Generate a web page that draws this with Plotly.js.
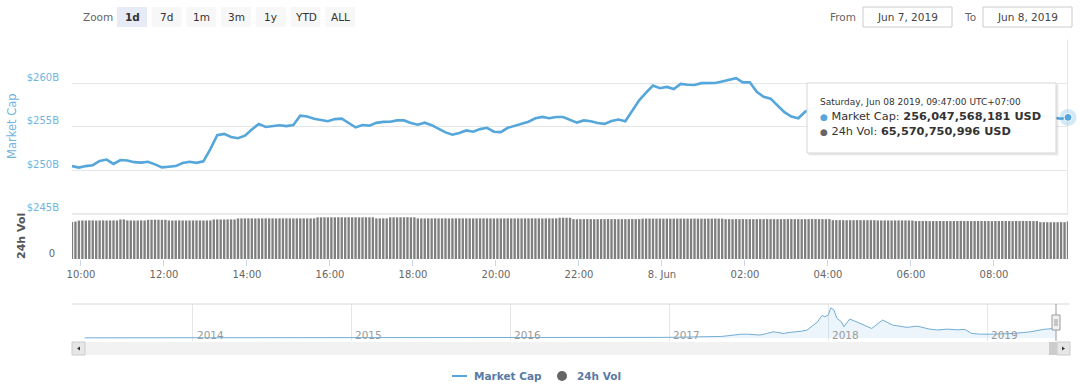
<!DOCTYPE html>
<html><head><meta charset="utf-8">
<script src="https://cdn.plot.ly/plotly-3.0.1.min.js"></script>
<style>html,body{margin:0;padding:0;background:#fff}#chart{width:1080px;height:387px}</style>
</head><body><div id="chart"></div>
<script>
// ---------------- DATA ----------------
const startTime = [2019, 5, 7, 9, 47];   // Jun 7 2019 09:47 (UTC+07 wall clock)
const capStepMinutes = 10;
const volStepMinutes = 5;

// Market cap, billions USD, every 10 minutes
const marketCapB = [
  250.45,250.28,250.45,250.55,251.05,251.2,250.7,251.15,251.1,250.9,250.85,250.95,
  250.65,250.3,250.38,250.45,250.8,250.95,250.82,251.0,252.4,254.0,254.15,253.8,
  253.65,253.95,254.66,255.3,254.95,255.05,255.15,255.05,255.17,256.25,256.15,255.9,
  255.75,255.6,255.85,255.9,255.4,254.9,255.17,255.1,255.42,255.53,255.55,255.7,
  255.7,255.4,255.2,255.44,255.15,254.75,254.32,254.05,254.25,254.55,254.4,254.7,
  254.85,254.4,254.35,254.85,255.1,255.35,255.55,255.95,256.1,255.95,256.1,256.1,
  255.78,255.45,255.7,255.6,255.4,255.3,255.63,255.8,255.6,256.8,258.0,258.9,
  259.7,259.4,259.55,259.3,259.9,259.8,259.77,259.98,259.97,260.0,260.18,260.4,
  260.55,260.07,260.08,259.0,258.42,258.2,257.4,256.65,256.15,255.95,256.7,257.0,
  257.2,257.0,256.8,256.9,257.1,256.9,256.7,256.6,256.8,256.9,256.7,256.5,
  256.6,256.8,256.7,256.5,256.4,256.6,256.7,256.5,256.3,256.4,256.6,256.5,
  256.3,256.2,256.4,256.5,256.3,256.2,256.3,256.4,256.2,256.1,256.0,255.9,
  256.047568181
];

// 24h volume, billions USD, every 5 minutes
const volume24hB = [
  64.3,64.9,66.6,66.8,66.7,66.9,66.8,66.6,66.8,66.9,66.7,66.8,
  66.9,66.8,68.5,68.6,66.9,66.8,66.7,66.8,66.9,66.8,67.9,68.0,
  68.1,68.0,67.9,68.0,66.8,66.7,66.8,66.9,66.8,66.7,66.8,66.8,
  66.9,66.8,66.7,66.8,66.9,68.5,68.6,68.6,68.5,68.6,68.7,68.6,
  70.3,70.4,70.4,70.5,70.4,70.3,70.4,70.4,70.5,70.4,70.4,70.3,
  70.4,70.4,70.5,70.4,70.3,70.4,70.4,70.5,70.4,70.4,70.4,72.2,
  72.3,72.3,72.2,72.3,72.3,72.4,72.3,72.2,72.3,72.3,72.3,72.2,
  72.3,72.3,72.2,72.3,70.4,70.4,70.5,70.4,72.3,72.3,72.2,72.3,
  72.3,72.4,72.3,72.3,70.4,70.4,70.3,70.4,70.4,70.5,70.4,70.4,
  70.4,70.3,70.4,70.4,70.5,70.4,70.4,70.4,70.3,70.4,70.4,70.5,
  70.4,70.4,70.3,70.4,70.4,70.4,70.5,70.4,70.4,70.3,70.4,70.4,
  70.4,70.5,70.4,70.4,70.3,70.4,70.4,70.4,70.4,71.5,71.6,71.5,
  71.5,69.1,69.0,69.1,69.1,69.2,69.1,69.0,69.1,69.1,69.1,69.2,
  69.1,69.1,69.0,69.1,69.1,69.1,69.2,69.1,69.1,70.0,70.1,70.0,
  70.0,70.0,70.1,70.0,70.0,69.9,70.0,70.0,70.1,70.0,70.0,70.0,
  70.1,70.0,70.0,69.9,70.0,70.0,70.1,70.0,70.0,69.1,69.1,69.0,
  69.1,69.1,69.2,69.1,69.1,69.0,69.1,69.1,69.1,69.2,69.1,69.1,
  69.0,69.1,69.1,69.1,69.2,69.1,69.1,69.0,69.1,69.1,69.1,69.2,
  69.1,69.1,69.0,69.1,67.3,67.3,67.4,67.3,67.2,67.3,67.3,67.4,
  67.3,67.3,67.2,67.3,67.3,66.8,66.8,66.9,66.8,66.7,66.8,66.8,
  66.9,66.8,66.8,66.7,65.8,65.8,65.9,65.8,65.7,65.8,65.8,65.9,
  65.8,65.8,65.7,65.8,65.8,65.9,65.8,65.8,65.7,65.8,65.8,65.9,
  65.8,65.8,65.7,65.8,65.8,65.9,65.8,65.8,65.7,65.8,65.8,65.9,
  65.8,65.8,65.7,65.8,63.8,63.9,63.8,63.7,63.8,63.8,63.9,63.8,
  65.570750996
];

const tickTimes = ['2019-06-07 10:00','2019-06-07 12:00','2019-06-07 14:00','2019-06-07 16:00',
  '2019-06-07 18:00','2019-06-07 20:00','2019-06-07 22:00','2019-06-08 00:00',
  '2019-06-08 02:00','2019-06-08 04:00','2019-06-08 06:00','2019-06-08 08:00'];
const tickLabels = ['10:00','12:00','14:00','16:00','18:00','20:00','22:00','8. Jun','02:00','04:00','06:00','08:00'];

const capTicks = [245, 250, 255, 260, 265];
const capTickLabels = ['$245B', '$250B', '$255B', '$260B', ''];

// Navigator: total market cap history, billions USD
const navDates = ['2013-04-28','2013-06-15','2013-08-15','2013-10-15','2013-11-15','2013-12-04','2013-12-20',
  '2014-01-15','2014-02-15','2014-03-15','2014-04-15','2014-06-15','2014-08-15','2014-10-15','2014-12-15',
  '2015-01-15','2015-03-15','2015-06-15','2015-09-15','2015-11-05','2015-12-15',
  '2016-02-15','2016-04-15','2016-06-18','2016-08-15','2016-10-15','2016-12-15',
  '2017-01-15','2017-02-15','2017-03-15','2017-04-15','2017-05-01','2017-05-27','2017-06-12','2017-06-29',
  '2017-07-16','2017-07-28','2017-08-14','2017-08-27','2017-09-05','2017-09-19','2017-10-05','2017-10-21',
  '2017-11-01','2017-11-13','2017-11-27','2017-12-07','2017-12-13','2017-12-18','2017-12-24',
  '2018-01-01','2018-01-07','2018-01-14','2018-01-21','2018-01-31','2018-02-06','2018-02-19','2018-03-03',
  '2018-03-19','2018-04-06','2018-04-11','2018-04-25','2018-05-06','2018-05-29','2018-06-15','2018-07-01',
  '2018-07-24','2018-08-14','2018-08-22','2018-09-10','2018-10-01','2018-10-25','2018-11-11','2018-11-27',
  '2018-12-15','2019-01-15','2019-02-10','2019-03-02','2019-04-10','2019-05-10','2019-06-02','2019-06-08'];
const navCapB = [1.5,1.2,1.4,2.0,6,15,8,
  10,9,8,6,8,7,5,4.5,
  3,4,3.8,3.6,6,6.5,
  6,7.5,12,10.5,10.5,13,
  17,18,24,28,38,72,95,99,80,75,120,160,150,118,145,160,180,206,340,420,520,600,560,
  608,800,742,520,430,295,500,447,360,270,250,380,475,340,300,280,313,260,233,210,233,215,225,118,99,
  100,108,118,160,225,250,256];
const navYears = ['2014','2015','2016','2017','2018','2019'];

const zoomButtons = ['1d','7d','1m','3m','1y','YTD','ALL'];
const selectedButton = '1d';
const dateFrom = 'Jun 7, 2019';
const dateTo = 'Jun 8, 2019';
const tooltipTitle = 'Saturday, Jun 08 2019, 09:47:00 UTC+07:00';

// ---------------- HELPERS ----------------
function timeAt(stepMin, i) {
  const d = new Date(Date.UTC(startTime[0], startTime[1], startTime[2], startTime[3], startTime[4]) + stepMin * i * 60000);
  const p = n => String(n).padStart(2, '0');
  return d.getUTCFullYear() + '-' + p(d.getUTCMonth() + 1) + '-' + p(d.getUTCDate()) + ' ' + p(d.getUTCHours()) + ':' + p(d.getUTCMinutes()) + ':00';
}
const capTimes = marketCapB.map((_, i) => timeAt(capStepMinutes, i));
const volTimes = volume24hB.map((_, i) => timeAt(volStepMinutes, i));
const lastTime = capTimes[capTimes.length - 1];
const lastCap = marketCapB[marketCapB.length - 1];
const lastVol = volume24hB[volume24hB.length - 1];

const W = 1080, H = 387;
const px = v => v / W;
const py = v => 1 - v / H;
const FONT = 'DejaVu Sans, Verdana, sans-serif';
const BLUE = '#55a6db';
const LABEL_BLUE = '#72b4dd';

const fmtUSD = b => Math.round(b * 1e9).toLocaleString('en-US') + ' USD';

// ---------------- TRACES ----------------
const traces = [
  { type: 'bar', x: volTimes, y: volume24hB, xaxis: 'x', yaxis: 'y2',
    marker: { color: '#7f7f7f', line: { width: 0 } }, showlegend: false, hoverinfo: 'skip' },
  { type: 'scatter', mode: 'lines', x: capTimes, y: marketCapB, xaxis: 'x', yaxis: 'y',
    line: { color: BLUE, width: 2.6 }, showlegend: false, hoverinfo: 'skip' },
  { type: 'scatter', mode: 'markers', x: [lastTime], y: [lastCap], xaxis: 'x', yaxis: 'y', cliponaxis: false,
    marker: { size: 17, color: 'rgba(85,166,219,0.25)' }, showlegend: false, hoverinfo: 'skip' },
  { type: 'scatter', mode: 'markers', x: [lastTime], y: [lastCap], xaxis: 'x', yaxis: 'y', cliponaxis: false,
    marker: { size: 8, color: BLUE, line: { color: '#ffffff', width: 1 } }, showlegend: false, hoverinfo: 'skip' },
  { type: 'scatter', mode: 'lines', x: navDates, y: navCapB, xaxis: 'x3', yaxis: 'y3',
    line: { color: '#72aed6', width: 1 }, fill: 'tozeroy', fillcolor: 'rgba(124,181,236,0.14)',
    showlegend: false, hoverinfo: 'skip' }
];

// ---------------- SHAPES & ANNOTATIONS ----------------
const shapes = [];
const annotations = [];
function rect(x0, y0, x1, y1, fill, line, lw, layer) {
  shapes.push({ type: 'rect', xref: 'paper', yref: 'paper', x0: px(x0), x1: px(x1), y0: py(y1), y1: py(y0),
    fillcolor: fill, line: { color: line || 'rgba(0,0,0,0)', width: lw === undefined ? (line ? 1 : 0) : lw }, layer: layer || 'above' });
}
function text(t, x, y, o) {
  o = o || {};
  annotations.push({ text: t, xref: 'paper', yref: 'paper', x: px(x), y: py(y), showarrow: false,
    xanchor: o.xanchor || 'center', yanchor: 'middle', textangle: o.angle || 0,
    font: { family: FONT, size: o.size || 10.5, color: o.color || '#333', weight: o.weight || 'normal' } });
}

// zoom buttons
text('Zoom', 97.5, 17, { color: '#666' });
zoomButtons.forEach((b, i) => {
  const x0 = 117 + i * 34.7;
  const sel = b === selectedButton;
  rect(x0, 7, x0 + 30, 27, sel ? '#e6ebf5' : '#f7f7f7');
  text(b, x0 + 15, 17, { color: '#333', weight: sel ? 'bold' : 'normal' });
});
// date range inputs
text('From', 842.5, 17, { color: '#666' });
rect(863, 7, 952, 27, '#ffffff', '#cccccc');
text(dateFrom, 907.5, 17, { color: '#444' });
text('To', 970, 17, { color: '#666' });
rect(983, 7, 1072, 27, '#ffffff', '#cccccc');
text(dateTo, 1027.5, 17, { color: '#444' });

// axis titles
text('Market Cap', 12, 126, { angle: -90, color: LABEL_BLUE, size: 11.5 });
text('24h Vol', 21, 236, { angle: -90, color: '#555', size: 11, weight: 'bold' });

// volume panel top line & crosshair
shapes.push({ type: 'line', xref: 'x domain', yref: 'y2 domain', x0: 0, x1: 1, y0: 1, y1: 1,
  line: { color: '#d4d4d4', width: 1 } });
shapes.push({ type: 'line', xref: 'x', yref: 'y domain', x0: lastTime, x1: lastTime, y0: 0, y1: 1,
  line: { color: '#cccccc', width: 1 }, layer: 'below' });

// tooltip
rect(809, 85, 1059, 156, 'rgba(0,0,0,0.04)');
rect(808, 84, 1058, 155, 'rgba(0,0,0,0.05)');
rect(807, 83, 1056, 153, 'rgba(255,255,255,0.97)', '#d6d6d6');
text(tooltipTitle, 818, 102.5, { xanchor: 'left', size: 9, color: '#333' });
text('<span style="color:' + BLUE + ';font-size:9px">●</span> Market Cap: <b>' + fmtUSD(lastCap) + '</b>', 818, 116.5,
  { xanchor: 'left', size: 11.3, color: '#333' });
text('<span style="color:#666;font-size:9px">●</span> 24h Vol: <b>' + fmtUSD(lastVol) + '</b>', 818, 131.5,
  { xanchor: 'left', size: 11.3, color: '#333' });

// navigator outline, handle, scrollbar
shapes.push({ type: 'line', xref: 'paper', yref: 'paper', x0: px(72), x1: px(1070), y0: py(304), y1: py(304),
  line: { color: '#d8d8d8', width: 1 } });
rect(72, 342, 1070, 355, '#f2f2f2');
rect(72, 342, 85, 355, '#e6e6e6', '#cccccc');
rect(1049, 342, 1057, 355, '#cccccc');
rect(1057, 342, 1070, 355, '#e6e6e6', '#cccccc');
shapes.push({ type: 'path', xref: 'paper', yref: 'paper', fillcolor: '#333', line: { width: 0 },
  path: `M ${px(77)} ${py(348.5)} L ${px(80)} ${py(346.5)} L ${px(80)} ${py(350.5)} Z` });
shapes.push({ type: 'path', xref: 'paper', yref: 'paper', fillcolor: '#333', line: { width: 0 },
  path: `M ${px(1065)} ${py(348.5)} L ${px(1062)} ${py(346.5)} L ${px(1062)} ${py(350.5)} Z` });
shapes.push({ type: 'line', xref: 'paper', yref: 'paper', x0: px(1056), x1: px(1056), y0: py(341), y1: py(304),
  line: { color: '#999', width: 1 } });
rect(1052, 315, 1060, 330, '#f2f2f2', '#999999');
shapes.push({ type: 'line', xref: 'paper', yref: 'paper', x0: px(1055), x1: px(1055), y0: py(326), y1: py(319),
  line: { color: '#999', width: 1 } });
shapes.push({ type: 'line', xref: 'paper', yref: 'paper', x0: px(1057), x1: px(1057), y0: py(326), y1: py(319),
  line: { color: '#999', width: 1 } });
// navigator year labels
navYears.forEach(y => annotations.push({ text: y, xref: 'x3', yref: 'paper', x: y + '-01-01', y: py(335),
  showarrow: false, xanchor: 'left', yanchor: 'middle', xshift: 2,
  font: { family: FONT, size: 10.5, color: '#9a9a9a' } }));

// legend
shapes.push({ type: 'line', xref: 'paper', yref: 'paper', x0: px(452), x1: px(467), y0: py(376), y1: py(376),
  line: { color: BLUE, width: 2 } });
text('Market Cap', 472, 376, { xanchor: 'left', weight: 'bold', color: '#5a7aa4', size: 10.5 });
shapes.push({ type: 'circle', xref: 'paper', yref: 'paper', x0: px(557), x1: px(567), y0: py(381), y1: py(371),
  fillcolor: '#666', line: { width: 0 } });
text('24h Vol', 575, 376, { xanchor: 'left', weight: 'bold', color: '#5a7aa4', size: 10.5 });

// ---------------- LAYOUT ----------------
const layout = {
  width: W, height: H,
  margin: { l: 0, r: 0, t: 0, b: 0 },
  paper_bgcolor: '#ffffff', plot_bgcolor: '#ffffff',
  font: { family: FONT, size: 10, color: '#666' },
  showlegend: false,
  bargap: 0.32,
  xaxis: {
    type: 'date', domain: [px(72), px(1068)], anchor: 'y2',
    range: [capTimes[0], lastTime],
    tickvals: tickTimes, ticktext: tickLabels,
    ticks: 'outside', ticklen: 6, tickcolor: '#ccd6eb', tickwidth: 1,
    tickfont: { family: FONT, size: 10, color: '#666' },
    showgrid: false, zeroline: false, showline: false
  },
  yaxis: {
    domain: [py(213.5), py(39.5)], anchor: 'x',
    range: [245, 265], tickvals: capTicks, ticktext: capTickLabels,
    showgrid: true, gridcolor: '#e6e6e6', gridwidth: 1, zeroline: false, showline: false,
    ticks: '', ticklabelstandoff: 12, ticklabelshift: -6,
    tickfont: { family: FONT, size: 10, color: LABEL_BLUE }
  },
  yaxis2: {
    domain: [py(259), py(214)], anchor: 'x',
    range: [0, 78], tickvals: [0], ticktext: ['0'],
    showgrid: false, zeroline: false, showline: false,
    ticks: '', ticklabelstandoff: 16, ticklabelshift: -6,
    tickfont: { family: FONT, size: 10, color: '#666' }
  },
  xaxis3: {
    type: 'date', domain: [px(72), px(1056)], anchor: 'y3',
    range: ['2013-03-30', '2019-06-08 10:00'],
    tickvals: navYears.map(y => y + '-01-01'), showticklabels: false, ticks: '',
    showgrid: true, gridcolor: '#e6e6e6', zeroline: false, showline: false
  },
  yaxis3: {
    domain: [py(341), py(304)], anchor: 'x3',
    range: [-83, 902], showticklabels: false, showgrid: false, zeroline: false, ticks: ''
  },
  shapes: shapes,
  annotations: annotations
};

Plotly.newPlot('chart', traces, layout, { displayModeBar: false, staticPlot: true });
</script>
</body></html>
